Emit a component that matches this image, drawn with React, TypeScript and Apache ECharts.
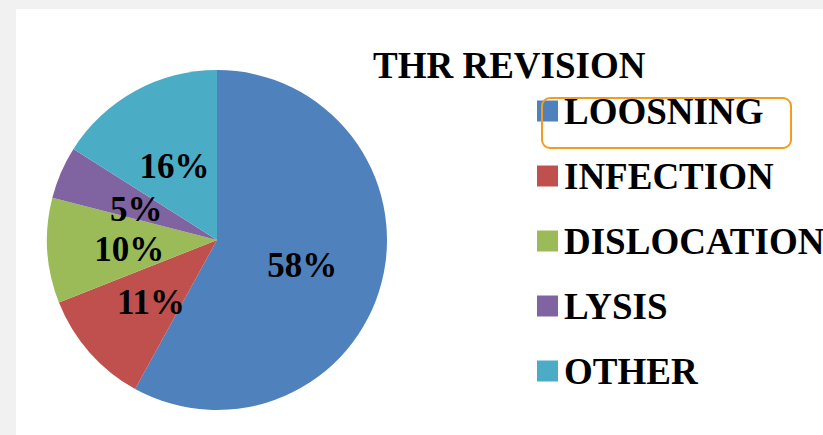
import React, { useEffect, useRef } from "react";
import * as echarts from "echarts";

const categories = ["LOOSNING", "INFECTION", "DISLOCATION", "LYSIS", "OTHER"];
const values = [58, 11, 10, 5, 16];
const colors = ["#4F81BD", "#C0504D", "#9BBB59", "#8064A2", "#4BACC6"];
const title = "THR REVISION";

export default function App() {
  const ref = useRef<HTMLDivElement>(null);
  useEffect(() => {
    if (!ref.current) return;
    const chart = echarts.init(ref.current, null, { renderer: "svg" });
    const font = "'Liberation Serif', 'Times New Roman', serif";
    chart.setOption({
      animation: false,
      backgroundColor: "#ffffff",
      title: {
        text: title,
        left: 357,
        top: 38,
        padding: 0,
        textStyle: {
          fontFamily: font,
          fontWeight: "bold",
          fontSize: 37,
          lineHeight: 36,
          color: "#000",
        },
      },
      legend: {
        orient: "vertical",
        left: 521,
        top: 82,
        padding: 0,
        icon: "rect",
        itemWidth: 21,
        itemHeight: 21,
        itemGap: 25,
        data: categories,
        textStyle: {
          fontFamily: font,
          fontWeight: "bold",
          fontSize: 37,
          lineHeight: 40,
          color: "#000",
          padding: [0, 0, 0, 1],
        },
      },
      graphic: [
        {
          type: "rect",
          shape: { x: 526, y: 89, width: 249, height: 50, r: 8 },
          style: { fill: "none", stroke: "#F39C1F", lineWidth: 2 },
          z: 100,
        },
      ],
      series: [
        {
          type: "pie",
          center: [201, 231],
          radius: 170,
          startAngle: 90,
          clockwise: true,
          silent: true,
          label: {
            show: true,
            position: "inside",
            formatter: "{c}%",
            fontFamily: font,
            fontWeight: "bold",
            fontSize: 35,
            color: "#000",
            offset: [0, 4],
          },
          labelLine: { show: false },
          itemStyle: { borderWidth: 0 },
          data: categories.map((name, i) => ({
            name,
            value: values[i],
            itemStyle: { color: colors[i] },
          })),
        },
      ],
    });
    return () => chart.dispose();
  }, []);
  return (
    <div
      style={{
        position: "fixed",
        left: 0,
        top: 0,
        width: 823,
        height: 435,
        background: "#f1f1f1",
        overflow: "hidden",
      }}
    >
      <div
        ref={ref}
        style={{ position: "absolute", left: 16, top: 9, width: 807, height: 426 }}
      />
    </div>
  );
}
